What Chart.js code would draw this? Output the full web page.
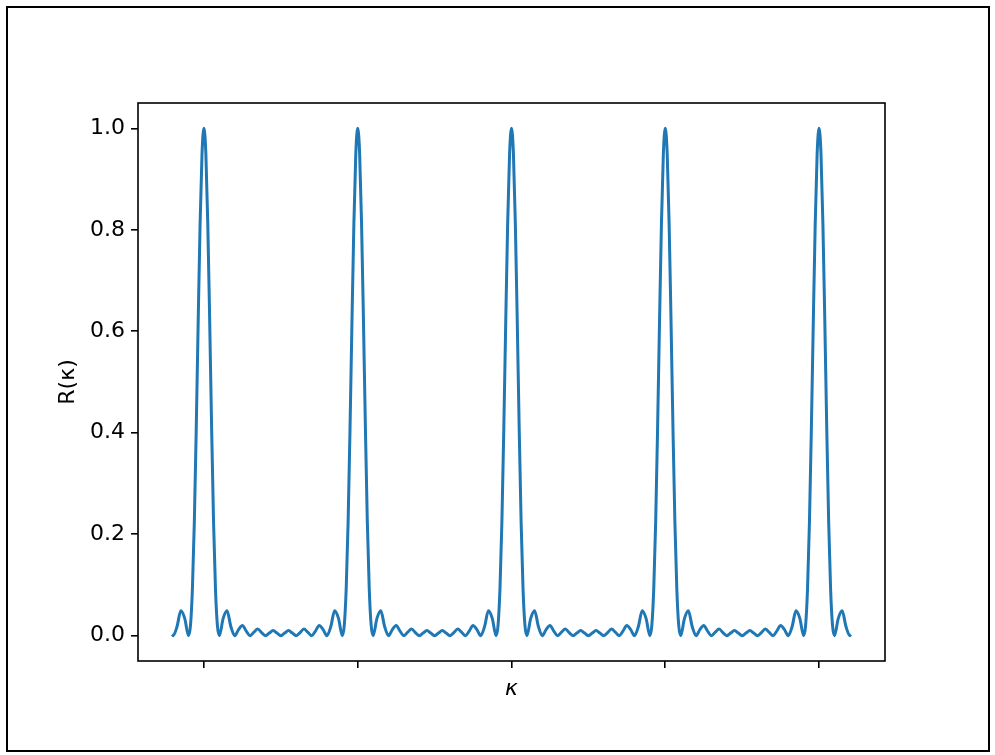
<!DOCTYPE html>
<html>
<head>
<meta charset="utf-8">
<script src="https://cdn.jsdelivr.net/npm/chart.js@4.4.1/dist/chart.umd.min.js"></script>
<style>
  html, body { margin: 0; padding: 0; background: #fff; }
  #wrap { position: relative; width: 995px; height: 755px; }
  #frame { position: absolute; left: 6px; top: 6px; width: 984px; height: 746px; border: 2px solid #000; box-sizing: border-box; pointer-events: none; }
  canvas { position: absolute; left: 0; top: 0; }
</style>
</head>
<body>
<div id="wrap">
  <canvas id="c" width="995" height="755"></canvas>
  <div id="frame"></div>
</div>
<script>
// kappa positions (axis units; main peaks at 0, 10, 20, 30, 40)
const kappa = [
  -2.08, -2, -1.75, -1.5, -1.25, -1, -0.875, -0.75, -0.625, -0.5, -0.375, -0.25, -0.125,
  0, 0.125, 0.25, 0.375, 0.5, 0.625, 0.75, 0.875, 1, 1.25, 1.5, 1.75, 2, 2.25, 2.5, 2.75, 3, 3.25, 3.5, 3.75, 4, 4.25, 4.5, 4.75, 5, 5.25, 5.5, 5.75, 6, 6.25, 6.5, 6.75, 7, 7.25, 7.5, 7.75, 8, 8.25, 8.5, 8.75, 9, 9.125, 9.25, 9.375, 9.5, 9.625, 9.75, 9.875,
  10, 10.125, 10.25, 10.375, 10.5, 10.625, 10.75, 10.875, 11, 11.25, 11.5, 11.75, 12, 12.25, 12.5, 12.75, 13, 13.25, 13.5, 13.75, 14, 14.25, 14.5, 14.75, 15, 15.25, 15.5, 15.75, 16, 16.25, 16.5, 16.75, 17, 17.25, 17.5, 17.75, 18, 18.25, 18.5, 18.75, 19, 19.125, 19.25, 19.375, 19.5, 19.625, 19.75, 19.875,
  20, 20.125, 20.25, 20.375, 20.5, 20.625, 20.75, 20.875, 21, 21.25, 21.5, 21.75, 22, 22.25, 22.5, 22.75, 23, 23.25, 23.5, 23.75, 24, 24.25, 24.5, 24.75, 25, 25.25, 25.5, 25.75, 26, 26.25, 26.5, 26.75, 27, 27.25, 27.5, 27.75, 28, 28.25, 28.5, 28.75, 29, 29.125, 29.25, 29.375, 29.5, 29.625, 29.75, 29.875,
  30, 30.125, 30.25, 30.375, 30.5, 30.625, 30.75, 30.875, 31, 31.25, 31.5, 31.75, 32, 32.25, 32.5, 32.75, 33, 33.25, 33.5, 33.75, 34, 34.25, 34.5, 34.75, 35, 35.25, 35.5, 35.75, 36, 36.25, 36.5, 36.75, 37, 37.25, 37.5, 37.75, 38, 38.25, 38.5, 38.75, 39, 39.125, 39.25, 39.375, 39.5, 39.625, 39.75, 39.875,
  40, 40.125, 40.25, 40.375, 40.5, 40.625, 40.75, 40.875, 41, 41.25, 41.5, 41.75, 42, 42.08
];
// R(kappa) values
const R = [
  0.002, 0, 0.018, 0.049, 0.034, 0, 0.020, 0.092, 0.224, 0.409, 0.618, 0.812, 0.950,
  1.000, 0.950, 0.812, 0.618, 0.409, 0.224, 0.092, 0.020, 0, 0.034, 0.049, 0.018, 0, 0.012, 0.020, 0.009, 0, 0.007, 0.013, 0.006, 0, 0.005, 0.010, 0.005, 0, 0.005, 0.010, 0.005, 0, 0.006, 0.013, 0.007, 0, 0.009, 0.020, 0.012, 0, 0.018, 0.049, 0.034, 0, 0.020, 0.092, 0.224, 0.409, 0.618, 0.812, 0.950,
  1.000, 0.950, 0.812, 0.618, 0.409, 0.224, 0.092, 0.020, 0, 0.034, 0.049, 0.018, 0, 0.012, 0.020, 0.009, 0, 0.007, 0.013, 0.006, 0, 0.005, 0.010, 0.005, 0, 0.005, 0.010, 0.005, 0, 0.006, 0.013, 0.007, 0, 0.009, 0.020, 0.012, 0, 0.018, 0.049, 0.034, 0, 0.020, 0.092, 0.224, 0.409, 0.618, 0.812, 0.950,
  1.000, 0.950, 0.812, 0.618, 0.409, 0.224, 0.092, 0.020, 0, 0.034, 0.049, 0.018, 0, 0.012, 0.020, 0.009, 0, 0.007, 0.013, 0.006, 0, 0.005, 0.010, 0.005, 0, 0.005, 0.010, 0.005, 0, 0.006, 0.013, 0.007, 0, 0.009, 0.020, 0.012, 0, 0.018, 0.049, 0.034, 0, 0.020, 0.092, 0.224, 0.409, 0.618, 0.812, 0.950,
  1.000, 0.950, 0.812, 0.618, 0.409, 0.224, 0.092, 0.020, 0, 0.034, 0.049, 0.018, 0, 0.012, 0.020, 0.009, 0, 0.007, 0.013, 0.006, 0, 0.005, 0.010, 0.005, 0, 0.005, 0.010, 0.005, 0, 0.006, 0.013, 0.007, 0, 0.009, 0.020, 0.012, 0, 0.018, 0.049, 0.034, 0, 0.020, 0.092, 0.224, 0.409, 0.618, 0.812, 0.950,
  1.000, 0.950, 0.812, 0.618, 0.409, 0.224, 0.092, 0.020, 0, 0.034, 0.049, 0.018, 0, 0.002
];
const xTicks = [0, 10, 20, 30, 40];
const yTicks = [0, 0.2, 0.4, 0.6, 0.8, 1.0];
const yTickLabels = ['0.0', '0.2', '0.4', '0.6', '0.8', '1.0'];

const points = kappa.map((k, i) => ({ x: k, y: R[i] }));

const framePlugin = {
  id: 'frame',
  afterDatasetsDraw(chart) {
    const { ctx, chartArea: a } = chart;
    ctx.save();
    ctx.strokeStyle = '#000';
    ctx.lineWidth = 1.6;
    ctx.strokeRect(a.left, a.top, a.right - a.left, a.bottom - a.top);
    ctx.restore();
  }
};

const FONT = 'DejaVu Sans';
new Chart(document.getElementById('c'), {
  type: 'line',
  data: {
    datasets: [{
      data: points,
      borderColor: '#1f77b4',
      borderWidth: 3,
      pointRadius: 0,
      fill: false,
      cubicInterpolationMode: 'monotone'
    }]
  },
  options: {
    responsive: false,
    animation: false,
    devicePixelRatio: 1,
    layout: { padding: { left: 0, top: 103, right: 110, bottom: 0 } },
    plugins: { legend: { display: false }, tooltip: { enabled: false } },
    scales: {
      x: {
        type: 'linear',
        min: -4.288,
        max: 44.288,
        afterBuildTicks: s => { s.ticks = xTicks.map(v => ({ value: v })); },
        afterFit: s => { s.height = 94; },
        border: { display: false },
        grid: { drawOnChartArea: false, drawTicks: true, tickLength: 7, color: '#000', lineWidth: 1.6 },
        ticks: { callback: () => '', font: { family: FONT, size: 22 }, color: '#000' },
        title: { display: true, text: 'κ', color: '#000', font: { family: FONT, size: 22, style: 'italic' }, padding: { top: 0, bottom: 53 } }
      },
      y: {
        type: 'linear',
        min: -0.05,
        max: 1.05,
        afterBuildTicks: s => { s.ticks = yTicks.map(v => ({ value: v })); },
        afterFit: s => { s.width = 138; },
        border: { display: false },
        grid: { drawOnChartArea: false, drawTicks: true, tickLength: 7, color: '#000', lineWidth: 1.6 },
        ticks: {
          padding: 6,
          color: '#000',
          font: { family: FONT, size: 22 },
          callback: (v) => { const i = yTicks.indexOf(v); return i >= 0 ? yTickLabels[i] : ''; }
        },
        title: { display: true, text: 'R(κ)', color: '#000', font: { family: FONT, size: 22 }, padding: { top: 55, bottom: 0 } }
      }
    }
  },
  plugins: [framePlugin]
});
</script>
</body>
</html>
